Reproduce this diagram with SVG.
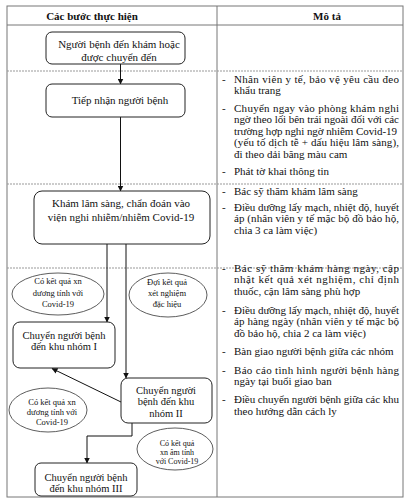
<svg xmlns="http://www.w3.org/2000/svg" width="409" height="503" viewBox="0 0 409 503">
<style>
.t{font-family:"Liberation Serif","Times New Roman",serif;fill:#111}
.n{font-size:11px;text-anchor:middle}
.m{font-size:10.5px;text-anchor:middle}
.e{font-size:8.5px;text-anchor:middle}
.e2{font-size:8px;text-anchor:middle}
.d{font-size:11px}
.h{font-size:11px;font-weight:bold;text-anchor:middle}
.box{fill:#fff;stroke:#222;stroke-width:1}
.ell{fill:#fff;stroke:#333;stroke-width:0.8}
.grid{stroke:#777;stroke-width:1;fill:none}
.row{stroke:#999;stroke-width:1;stroke-dasharray:2 1;fill:none}
.c{stroke:#111;stroke-width:1;fill:none;marker-end:url(#ah)}
</style>
<defs>
<marker id="ah" markerWidth="6" markerHeight="6" refX="5.5" refY="3" orient="auto" markerUnits="userSpaceOnUse">
<path d="M0,0 L6,3 L0,6 z" fill="#111"/>
</marker>
</defs>
<rect width="409" height="503" fill="#fff"/>
<g id="table">
<rect class="grid" x="7" y="6" width="396" height="491"/>
<line class="grid" x1="217" y1="6" x2="217" y2="497"/>
<line class="grid" x1="7" y1="25" x2="403" y2="25"/>
<line class="row" x1="7" y1="71" x2="403" y2="71"/>
<line class="row" x1="7" y1="184" x2="403" y2="184"/>
<line class="row" x1="7" y1="268" x2="403" y2="268"/>
<text class="t h" x="92" y="20">Các bước thực hiện</text>
<text class="t h" x="327" y="20">Mô tả</text>
</g>
<g id="connectors">
<line class="c" x1="120.5" y1="64" x2="120.5" y2="84"/>
<line class="c" x1="120.5" y1="117" x2="120.5" y2="191"/>
<line class="c" x1="107" y1="244" x2="107" y2="322"/>
<line class="c" x1="126" y1="244" x2="126" y2="378"/>
<line class="c" x1="121" y1="402" x2="52" y2="368.5"/>
<polyline class="c" points="132,423 132,436 87,436 87,463"/>
</g>
<g id="n1">
<rect class="box" x="46" y="32" width="139" height="32" rx="6"/>
<text class="t n" x="119" y="48">Người bệnh đến khám hoặc</text>
<text class="t n" x="119" y="61">được chuyển đến</text>
</g>
<g id="n2">
<rect class="box" x="46" y="84" width="139" height="33" rx="6"/>
<text class="t n" x="120" y="104">Tiếp nhận người bệnh</text>
</g>
<g id="n3">
<rect class="box" x="34" y="191" width="176" height="53" rx="8"/>
<text class="t n" x="121" y="206.5">Khám lâm sàng, chẩn đoán vào</text>
<text class="t n" x="121" y="221">viện nghi nhiễm/nhiễm Covid-19</text>
</g>
<g id="e1">
<ellipse class="ell" cx="58" cy="294" rx="46" ry="21"/>
<text class="t e" x="58" y="284">Có kết quả xn</text>
<text class="t e" x="58" y="296">dương tính với</text>
<text class="t e" x="58" y="307">Covid-19</text>
</g>
<g id="e2">
<ellipse class="ell" cx="168" cy="295" rx="39" ry="22"/>
<text class="t e" x="167" y="285">Đợi kết quả</text>
<text class="t e" x="167" y="296">xét nghiệm</text>
<text class="t e" x="167" y="307">đặc hiệu</text>
</g>
<g id="nI">
<rect class="box" x="13" y="322" width="102" height="46" rx="7"/>
<text class="t m" x="64" y="339">Chuyển người bệnh</text>
<text class="t m" x="64" y="350">đến khu nhóm I</text>
</g>
<g id="nII">
<rect class="box" x="121" y="378" width="91" height="45" rx="7"/>
<text class="t m" x="166" y="393.5">Chuyển người</text>
<text class="t m" x="166" y="405">bệnh đến khu</text>
<text class="t m" x="166" y="417">nhóm II</text>
</g>
<g id="e3">
<ellipse class="ell" cx="48" cy="410" rx="39" ry="22"/>
<text class="t e" x="52" y="405">Có kết quả xn</text>
<text class="t e" x="52" y="415">dương tính với</text>
<text class="t e" x="52" y="425">Covid-19</text>
</g>
<g id="e4">
<ellipse class="ell" cx="175" cy="449" rx="38" ry="21"/>
<text class="t e2" x="177" y="446">Có kết quả</text>
<text class="t e2" x="177" y="455">xn âm tính</text>
<text class="t e2" x="177" y="464">với Covid-19</text>
</g>
<g id="nIII">
<rect class="box" x="35" y="463" width="102" height="33" rx="6"/>
<text class="t m" x="86" y="481">Chuyển người bệnh</text>
<text class="t m" x="86" y="492">đến khu nhóm III</text>
</g>
<g id="desc">
<text class="t d" x="222" y="82.5">-</text>
<text class="t d" x="234" y="82.5" textLength="165" lengthAdjust="spacing">Nhân viên y tế, bảo vệ yêu cầu đeo</text>
<text class="t d" x="234" y="94">khẩu trang</text>
<text class="t d" x="222" y="111.5">-</text>
<text class="t d" x="234" y="111.5" textLength="165" lengthAdjust="spacing">Chuyển ngay vào phòng khám nghi</text>
<text class="t d" x="234" y="123" textLength="165" lengthAdjust="spacing">ngờ theo lối bên trái ngoài đối với các</text>
<text class="t d" x="234" y="134.5" textLength="163" lengthAdjust="spacing">trường hợp nghi ngờ nhiễm Covid-19</text>
<text class="t d" x="234" y="146" textLength="165" lengthAdjust="spacing">(yếu tố dịch tễ + dấu hiệu lâm sàng),</text>
<text class="t d" x="234" y="157.5">đi theo dải băng màu cam</text>
<text class="t d" x="222" y="174.5">-</text>
<text class="t d" x="234" y="174.5">Phát tờ khai thông tin</text>
<text class="t d" x="222" y="194.5">-</text>
<text class="t d" x="234" y="194.5">Bác sỹ thăm khám lâm sàng</text>
<text class="t d" x="222" y="210.5">-</text>
<text class="t d" x="234" y="210.5" textLength="165" lengthAdjust="spacing">Điều dưỡng lấy mạch, nhiệt độ, huyết</text>
<text class="t d" x="234" y="222" textLength="165" lengthAdjust="spacing">áp (nhân viên y tế mặc bộ đồ bảo hộ,</text>
<text class="t d" x="234" y="233.5">chia 3 ca làm việc)</text>
<text class="t d" x="222" y="271.5">-</text>
<text class="t d" x="234" y="271.5" textLength="165" lengthAdjust="spacing">Bác sỹ thăm khám hàng ngày, cập</text>
<text class="t d" x="234" y="283" textLength="165" lengthAdjust="spacing">nhật kết quả xét nghiệm, chỉ định</text>
<text class="t d" x="234" y="294.5">thuốc, cận lâm sàng phù hợp</text>
<text class="t d" x="222" y="313.5">-</text>
<text class="t d" x="234" y="313.5" textLength="165" lengthAdjust="spacing">Điều dưỡng lấy mạch, nhiệt độ, huyết</text>
<text class="t d" x="234" y="325" textLength="165" lengthAdjust="spacing">áp hàng ngày (nhân viên y tế mặc bộ</text>
<text class="t d" x="234" y="336.5">đồ bảo hộ, chia 2 ca làm việc)</text>
<text class="t d" x="222" y="354.5">-</text>
<text class="t d" x="234" y="354.5">Bàn giao người bệnh giữa các nhóm</text>
<text class="t d" x="222" y="373.5">-</text>
<text class="t d" x="234" y="373.5" textLength="165" lengthAdjust="spacing">Báo cáo tình hình người bệnh hàng</text>
<text class="t d" x="234" y="385">ngày tại buổi giao ban</text>
<text class="t d" x="222" y="403">-</text>
<text class="t d" x="234" y="403" textLength="165" lengthAdjust="spacing">Điều chuyển người bệnh giữa các khu</text>
<text class="t d" x="234" y="414.5">theo hướng dẫn cách ly</text>
</g>
</svg>
